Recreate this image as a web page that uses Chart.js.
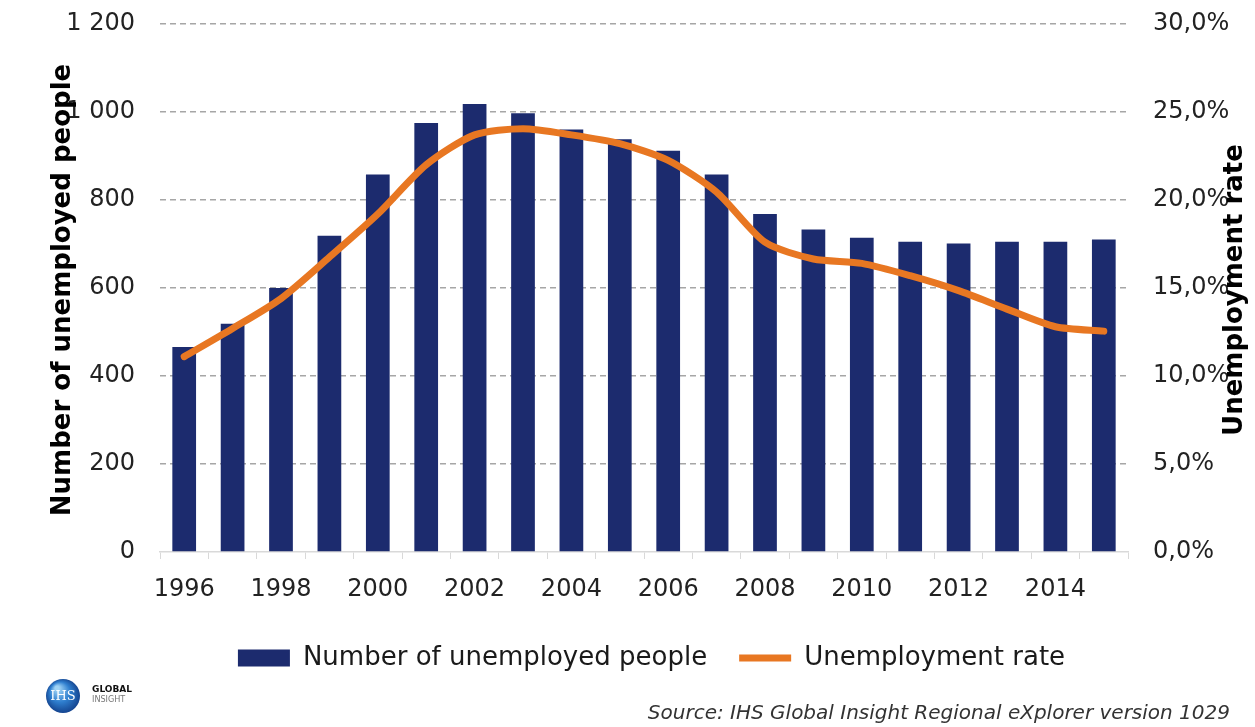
<!DOCTYPE html>
<html>
<head>
<meta charset="utf-8">
<script src="https://cdn.jsdelivr.net/npm/chart.js@4.4.0/dist/chart.umd.min.js"></script>
<style>
  html, body { margin: 0; padding: 0; background: #fff; }
</style>
</head>
<body>
<canvas id="chart" width="1255" height="727"></canvas>
<script>
// Data
const years = ['1996', '1997', '1998', '1999', '2000', '2001', '2002', '2003', '2004', '2005',
               '2006', '2007', '2008', '2009', '2010', '2011', '2012', '2013', '2014', '2015'];
const unemployedPeople = [466, 519, 600, 719, 858, 975, 1018, 997, 960, 938,
                          912, 858, 768, 733, 714, 705, 701, 705, 705, 710];
const unemploymentRate = [11.1, 12.7, 14.4, 16.75, 19.2, 22.0, 23.7, 24.05, 23.7, 23.2,
                          22.25, 20.45, 17.6, 16.65, 16.4, 15.7, 14.85, 13.8, 12.8, 12.55];
const leftAxisMax = 1200;
const rightAxisMax = 30;

const navy = '#1c2b6e';
const orange = '#e87722';
const tickFont = { family: '"DejaVu Sans", Verdana, sans-serif', size: 24 };

function formatThousands(v) {
    if (v >= 1000) return Math.floor(v / 1000) + ' ' + String(v % 1000).padStart(3, '0');
    return String(v);
}

// fixed axis widths, no extra label padding on top/bottom
function fixWidth(w) {
    return function (scale) {
        scale.width = w;
        scale.paddingTop = 0;
        scale.paddingBottom = 0;
    };
}

// Axis titles, logo and source line
const decorations = {
    id: 'decorations',
    afterDraw(chart) {
        const ctx = chart.ctx;
        ctx.save();
        ctx.fillStyle = '#000';
        ctx.font = 'bold 26px "DejaVu Sans", Verdana, sans-serif';
        ctx.textAlign = 'center';
        ctx.textBaseline = 'middle';

        ctx.save();
        ctx.translate(63, 290);
        ctx.rotate(-Math.PI / 2);
        ctx.fillText('Number of unemployed people', 0, 0);
        ctx.restore();

        ctx.save();
        ctx.translate(1235, 290);
        ctx.rotate(-Math.PI / 2);
        ctx.fillText('Unemployment rate', 0, 0);
        ctx.restore();

        // source
        ctx.font = 'italic 20px "DejaVu Sans", Verdana, sans-serif';
        ctx.fillStyle = '#333';
        ctx.textAlign = 'right';
        ctx.fillText('Source: IHS Global Insight Regional eXplorer version 1029', 1230, 714);

        // logo
        const g = ctx.createRadialGradient(57, 688, 2, 63, 696, 18);
        g.addColorStop(0, '#9fd3f5');
        g.addColorStop(0.5, '#2f7fcf');
        g.addColorStop(1, '#123f8a');
        ctx.fillStyle = g;
        ctx.beginPath();
        ctx.arc(63, 696, 17, 0, Math.PI * 2);
        ctx.fill();
        ctx.fillStyle = '#fff';
        ctx.font = '13px "DejaVu Serif", serif';
        ctx.textAlign = 'center';
        ctx.fillText('IHS', 63, 697);
        ctx.textAlign = 'left';
        ctx.fillStyle = '#111';
        ctx.font = 'bold 9px "DejaVu Sans", sans-serif';
        ctx.fillText('GLOBAL', 92, 690);
        ctx.fillStyle = '#777';
        ctx.font = '9px "DejaVu Sans Condensed", sans-serif';
        ctx.fillText('INSIGHT', 92, 700);
        ctx.restore();
    }
};

const ctx = document.getElementById('chart').getContext('2d');
new Chart(ctx, {
    type: 'bar',
    data: {
        labels: years,
        datasets: [{
            type: 'bar',
            label: 'Number of unemployed people',
            data: unemployedPeople,
            backgroundColor: navy,
            borderWidth: 0,
            categoryPercentage: 1,
            barPercentage: 0.49,
            pointStyle: 'rect',
            yAxisID: 'y',
            order: 1
        }, {
            type: 'line',
            label: 'Unemployment rate',
            data: unemploymentRate,
            borderColor: orange,
            backgroundColor: orange,
            borderWidth: 7,
            borderCapStyle: 'round',
            borderJoinStyle: 'round',
            tension: 0.25,
            pointRadius: 0,
            pointStyle: 'line',
            fill: false,
            yAxisID: 'y1',
            order: 0
        }]
    },
    options: {
        responsive: false,
        animation: false,
        layout: { padding: { top: 24, bottom: 46, left: 48, right: 0 } },
        plugins: {
            legend: {
                position: 'bottom',
                labels: {
                    usePointStyle: true,
                    pointStyleWidth: 52,
                    boxHeight: 17,
                    padding: 32,
                    color: '#1a1a1a',
                    font: { family: '"DejaVu Sans", Verdana, sans-serif', size: 26 },
                    sort: (a, b) => a.datasetIndex - b.datasetIndex
                }
            },
            tooltip: { enabled: false }
        },
        scales: {
            x: {
                grid: {
                    drawOnChartArea: false,
                    drawTicks: true,
                    tickLength: 7,
                    tickColor: '#d9d9d9',
                    color: '#d9d9d9'
                },
                border: { color: '#d9d9d9', width: 1.5 },
                ticks: {
                    autoSkip: false,
                    maxRotation: 0,
                    padding: 16,
                    color: '#222',
                    font: tickFont,
                    callback: function (v, i) { return i % 2 === 0 ? years[i] : ''; }
                },
                afterFit: function (scale) { scale.height = 61; }
            },
            y: {
                position: 'left',
                min: 0,
                max: leftAxisMax,
                ticks: {
                    stepSize: 200,
                    padding: 25,
                    color: '#222',
                    font: tickFont,
                    callback: formatThousands
                },
                grid: {
                    drawTicks: false,
                    color: c => c.tick && c.tick.value === 0 ? 'rgba(0,0,0,0)' : '#a6a6a6',
                    lineWidth: 1.5
                },
                border: { display: false, dash: [6, 4] },
                afterFit: fixWidth(112)
            },
            y1: {
                position: 'right',
                min: 0,
                max: rightAxisMax,
                ticks: {
                    stepSize: 5,
                    padding: 25,
                    color: '#222',
                    font: tickFont,
                    callback: v => v.toFixed(1).replace('.', ',') + '%'
                },
                grid: { drawOnChartArea: false, drawTicks: false },
                border: { display: false },
                afterFit: fixWidth(127)
            }
        }
    },
    plugins: [decorations]
});
</script>
</body>
</html>
